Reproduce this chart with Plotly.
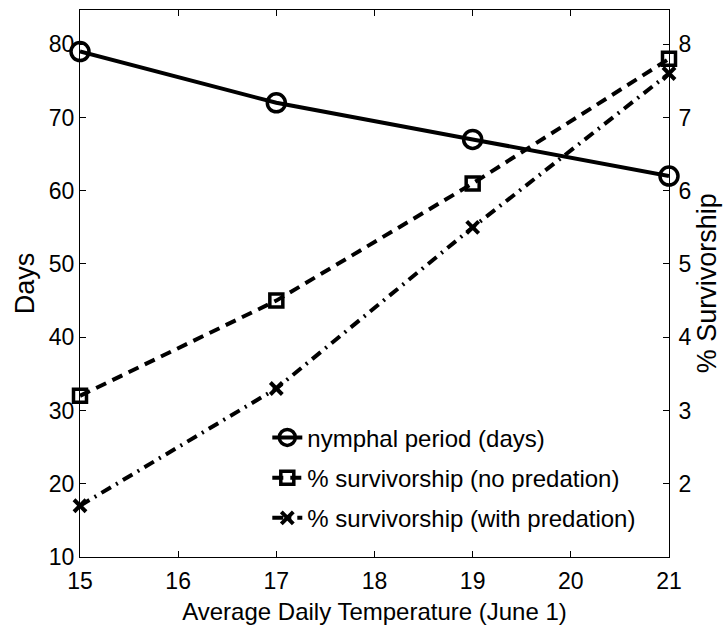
import plotly.graph_objects as go

temps = [15, 17, 19, 21]
nymphal_days = [79, 72, 67, 62]
surv_no_pred = [3.2, 4.5, 6.1, 7.8]
surv_with_pred = [1.7, 3.3, 5.5, 7.6]

x_ticks = [15, 16, 17, 18, 19, 20, 21]
left_ticks = [10, 20, 30, 40, 50, 60, 70, 80]
right_ticks = [2, 3, 4, 5, 6, 7, 8]

FONT = "Liberation Sans, Arial, Helvetica, sans-serif"

fig = go.Figure()
fig.add_trace(go.Scatter(
    x=temps, y=nymphal_days, name="nymphal period (days)", yaxis="y",
    mode="lines+markers", legendgroup="a",
    line=dict(color="black", width=4, dash="solid"),
    marker=dict(symbol="circle-open", size=18, color="black", line=dict(width=3.5, color="black")),
    cliponaxis=False,
))
fig.add_trace(go.Scatter(
    x=temps, y=surv_no_pred, name="% survivorship (no predation)", yaxis="y2",
    mode="lines+markers", legendgroup="b",
    line=dict(color="black", width=4, dash="11px,7px"),
    marker=dict(symbol="square-open", size=13, color="black", line=dict(width=3.5, color="black")),
    cliponaxis=False,
))
fig.add_trace(go.Scatter(
    x=temps, y=surv_with_pred, name="% survivorship (with predation)", yaxis="y2",
    mode="lines+markers", legendgroup="c",
    line=dict(color="black", width=4, dash="11px,6px,2px,6px"),
    marker=dict(symbol="x-thin", size=12, color="black", line=dict(width=4, color="black")),
    cliponaxis=False,
))

fig.update_layout(
    width=723, height=635,
    margin=dict(l=80, r=54, t=10, b=78),
    paper_bgcolor="white", plot_bgcolor="white",
    font=dict(family=FONT, size=23, color="black"),
    showlegend=True,
    legend=dict(
        x=0.318, y=0.259, xanchor="left", yanchor="top",
        bgcolor="rgba(0,0,0,0)", borderwidth=0,
        font=dict(size=24), traceorder="grouped", tracegroupgap=6,
    ),
    xaxis=dict(
        range=[15, 21], tickvals=x_ticks, ticktext=[str(v) for v in x_ticks],
        showline=True, linecolor="black", linewidth=1, mirror="ticks",
        ticks="inside", ticklen=6, tickcolor="black", showgrid=False, zeroline=False,
        ticklabelstandoff=3,
        title=dict(text="Average Daily Temperature (June 1)", font=dict(size=24), standoff=10),
    ),
    yaxis=dict(
        range=[10, 84.67], tickvals=left_ticks, ticktext=[str(v) for v in left_ticks],
        showline=True, linecolor="black", linewidth=1,
        ticks="inside", ticklen=6, tickcolor="black", showgrid=False, zeroline=False,
        title=dict(text="Days", font=dict(size=27), standoff=6),
    ),
    yaxis2=dict(
        range=[1, 8.467], tickvals=right_ticks, ticktext=[str(v) for v in right_ticks],
        overlaying="y", side="right", anchor="x",
        showline=True, linecolor="black", linewidth=1,
        ticks="inside", ticklen=6, tickcolor="black", showgrid=False, zeroline=False,
        ticklabelstandoff=4,
    ),
    annotations=[dict(
        text="% Survivorship", textangle=-90, showarrow=False,
        xref="paper", yref="paper", x=1.064, y=0.5,
        xanchor="center", yanchor="middle", font=dict(size=27),
    )],
)

fig.write_html("out.html", config={"displayModeBar": False},
               post_script="document.body.style.margin='0px';")
